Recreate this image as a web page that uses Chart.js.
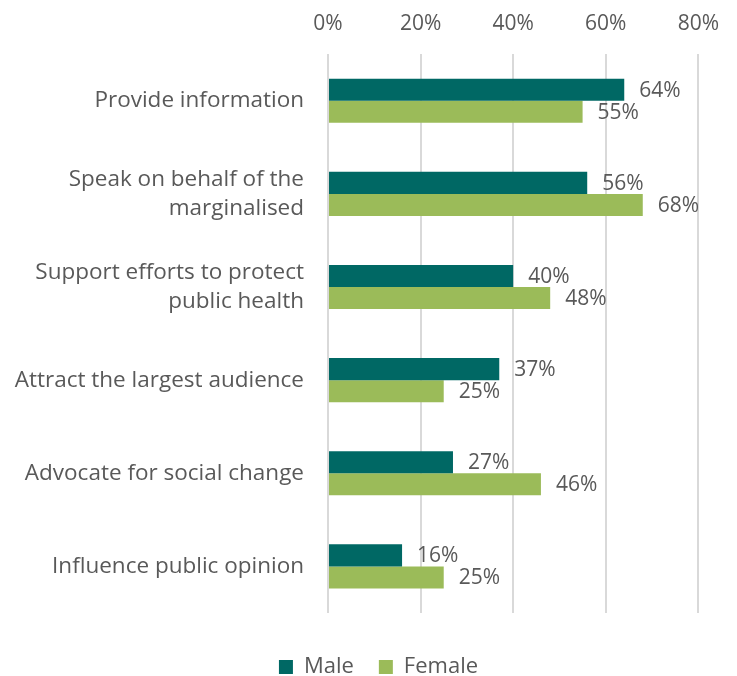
<!DOCTYPE html>
<html>
<head>
<meta charset="utf-8">
<script src="https://cdn.jsdelivr.net/npm/chart.js@4"></script>
<style>
  html, body { margin: 0; padding: 0; background: #fff; }
  #wrap { width: 737px; height: 676px; }
</style>
</head>
<body>
<div id="wrap"><canvas id="roleChart"></canvas></div>
<script>
// ------------------------
// Data
// ------------------------
const categories = [
    'Provide information',
    ['Speak on behalf of the', 'marginalised'],
    ['Support efforts to protect', 'public health'],
    'Attract the largest audience',
    'Advocate for social change',
    'Influence public opinion'
];
const maleValues = [64, 56, 40, 37, 27, 16];
const femaleValues = [55, 68, 48, 25, 46, 25];
const tickValues = [0, 20, 40, 60, 80];

const TEXT = '#595959';
const FONT = "'Open Sans', 'Noto Sans', sans-serif";

// ------------------------
// Value labels at bar ends
// ------------------------
const barLabels = {
    id: 'barLabels',
    afterDatasetsDraw(chart) {
        const ctx = chart.ctx;
        ctx.save();
        ctx.font = '21px ' + FONT;
        ctx.fillStyle = TEXT;
        ctx.textAlign = 'left';
        ctx.textBaseline = 'middle';
        chart.data.datasets.forEach((ds, i) => {
            chart.getDatasetMeta(i).data.forEach((bar, j) => {
                ctx.fillText(ds.data[j] + '%', bar.x + 15, bar.y + 1);
            });
        });
        ctx.restore();
    }
};

// nudge the legend right, the original centres it a bit off the canvas middle
const legendShift = {
    id: 'legendShift',
    afterLayout(chart) {
        chart.legend.left += 27;
        chart.legend.right += 27;
    }
};

new Chart(document.getElementById('roleChart'), {
    type: 'bar',
    data: {
        labels: categories,
        datasets: [
            { label: 'Male', data: maleValues, backgroundColor: '#006864' },
            { label: 'Female', data: femaleValues, backgroundColor: '#9BBB59' }
        ]
    },
    options: {
        indexAxis: 'y',
        responsive: true,
        maintainAspectRatio: false,
        animation: false,
        layout: { padding: { top: -7, right: 34, bottom: -12, left: 0 } },
        datasets: { bar: { categoryPercentage: 0.474, barPercentage: 1 } },
        scales: {
            x: {
                position: 'top',
                min: 0,
                max: 80,
                afterBuildTicks: scale => { scale.ticks = tickValues.map(v => ({ value: v })); },
                ticks: {
                    callback: v => v + '%',
                    color: TEXT,
                    font: { family: FONT, size: 21 },
                    padding: 18
                },
                grid: { color: '#d9d9d9', lineWidth: 2, drawTicks: false },
                border: { display: false }
            },
            y: {
                afterFit: scale => { scale.width = 328; },
                ticks: {
                    color: TEXT,
                    font: { family: FONT, size: 22.5, lineHeight: 1.29 },
                    padding: 16
                },
                grid: { display: false },
                border: { display: false }
            }
        },
        plugins: {
            legend: {
                position: 'bottom',
                title: {
                    display: true,
                    text: ' ',
                    font: { size: 10, lineHeight: 1.2 },
                    padding: { top: 3, bottom: 3 }
                },
                labels: {
                    color: TEXT,
                    font: { family: FONT, size: 22 },
                    boxWidth: 14,
                    boxHeight: 14,
                    padding: 25
                }
            },
            tooltip: { enabled: false }
        }
    },
    plugins: [barLabels, legendShift]
});
</script>
</body>
</html>
